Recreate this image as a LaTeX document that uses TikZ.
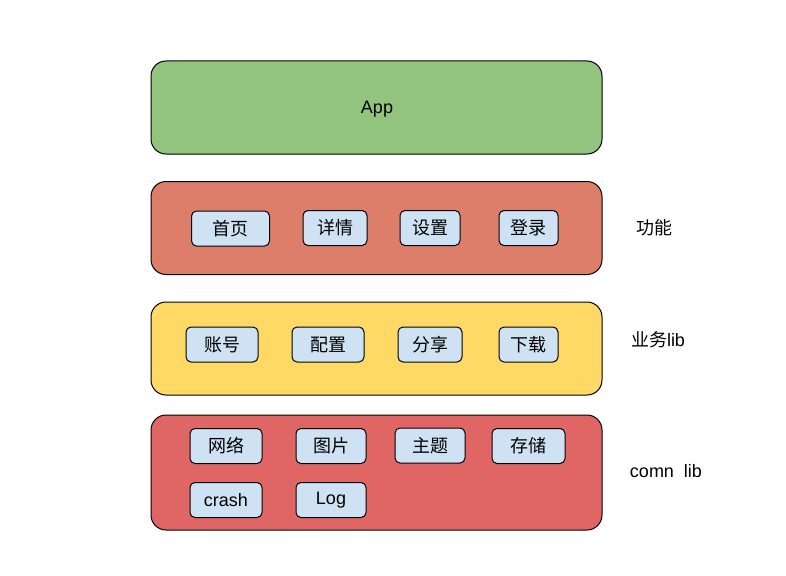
\documentclass[tikz,border=0pt]{standalone}
\usepackage{fontspec}
\setmainfont{Liberation Sans}
\newfontfamily\cjk{Noto Sans CJK SC}
\usepackage{tikz}
\definecolor{app_green}{HTML}{93C47D}
\definecolor{fn_red}{HTML}{DD7E6B}
\definecolor{biz_yellow}{HTML}{FFD966}
\definecolor{comn_red}{HTML}{E06666}
\definecolor{item_blue}{HTML}{CFE2F3}
\tikzstyle{layer}=[rectangle,rounded corners=15pt,draw=black,line width=1pt,
  minimum width=451pt,minimum height=93pt,inner sep=0pt]
\tikzstyle{item}=[rectangle,rounded corners=5pt,fill=item_blue,draw=black,
  line width=1pt,minimum height=35pt,inner sep=0pt,font=\fontsize{18}{21}\selectfont]
\tikzstyle{tag}=[inner sep=0pt,font=\fontsize{18}{21}\selectfont]

\begin{document}
\begin{tikzpicture}[x=1pt,y=-1pt]
    \useasboundingbox (0,0) rectangle (786,575);
    % layers
    \node [style=layer,fill=app_green] (app) at (376.5,107.5) {};
    \node [style=layer,fill=fn_red] (fn) at (376.5,228) {};
    \node [style=layer,fill=biz_yellow] (biz) at (376.5,348.5) {};
    \node [style=layer,fill=comn_red,minimum height=115pt] (comn) at (376.5,472.5) {};
    \node [style=tag] (appname) at (377,109) {App};
    % layer names
    \node [style=tag] (fnname) at (654,228) {\cjk 功能};
    \node [style=tag] (bizname) at (658,340) {{\cjk 业务}lib};
    \node [style=tag] (comnname) at (666,471) {comn\ \ lib};
    % 功能
    \node [style=item,minimum width=78pt] (home) at (230.5,228.5) {\cjk 首页};
    \node [style=item,minimum width=64pt] (detail) at (335,228) {\cjk 详情};
    \node [style=item,minimum width=60pt] (setting) at (430,228) {\cjk 设置};
    \node [style=item,minimum width=59pt] (login) at (528.5,228) {\cjk 登录};
    % 业务lib
    \node [style=item,minimum width=72pt] (account) at (222,344.5) {\cjk 账号};
    \node [style=item,minimum width=72pt] (config) at (328,344.5) {\cjk 配置};
    \node [style=item,minimum width=64pt] (share) at (430,344.5) {\cjk 分享};
    \node [style=item,minimum width=59pt] (download) at (528.5,344.5) {\cjk 下载};
    % comn lib
    \node [style=item,minimum width=72pt] (net) at (226,446) {\cjk 网络};
    \node [style=item,minimum width=70pt] (image) at (331,446) {\cjk 图片};
    \node [style=item,minimum width=70pt] (theme) at (430,445.5) {\cjk 主题};
    \node [style=item,minimum width=73pt] (storage) at (528.5,446) {\cjk 存储};
    \node [style=item,minimum width=72pt] (crash) at (226,500) {crash};
    \node [style=item,minimum width=70pt] (log) at (331,500) {Log};
  \end{tikzpicture}
\end{document}
